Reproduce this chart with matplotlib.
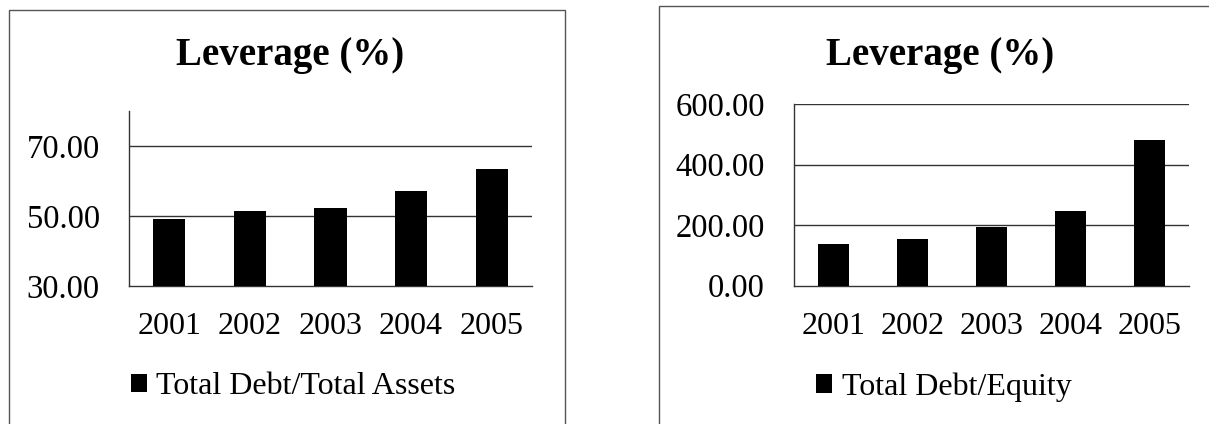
import matplotlib.pyplot as plt
from matplotlib.patches import Rectangle

# Veriler
years = ['2001', '2002', '2003', '2004', '2005']
debt_assets = [49.1, 51.5, 52.2, 57.1, 63.3]
debt_equity = [137.6, 155.0, 194.7, 247.5, 481.0]

left_ticks = [30, 50, 70]
right_ticks = [0, 200, 400, 600]

W, H = 1209, 424
plt.rcParams['font.family'] = ['Liberation Serif', 'DejaVu Serif']

fig = plt.figure(figsize=(W / 100, H / 100), dpi=100)


def px_axes(x0, y0, x1, y1):
    # piksel koordinatlarından (üstten) eksen oluştur
    return fig.add_axes([x0 / W, 1 - y1 / H, (x1 - x0) / W, (y1 - y0) / H])


def px_box(x0, y0, x1, y1):
    fig.patches.append(Rectangle((x0 / W, 1 - y1 / H), (x1 - x0) / W, (y1 - y0) / H,
                                 transform=fig.transFigure, fill=False,
                                 edgecolor='#555555', linewidth=1.0))


def draw_panel(ax, values, ylim, ticks, label, title_x, legend_x):
    x = range(len(years))
    ax.bar(x, values, width=0.4, color='black', label=label, zorder=3)
    ax.set_xlim(-0.5, len(years) - 0.5)
    ax.set_ylim(*ylim)
    ax.set_yticks(ticks)
    ax.set_yticklabels([f'{t:.2f}' for t in ticks])
    ax.set_xticks(list(x))
    ax.set_xticklabels(years)
    ax.tick_params(axis='y', length=0, labelsize=23.5, pad=21)
    ax.tick_params(axis='x', length=0, labelsize=23, pad=19)
    for t in ticks[1:]:
        ax.axhline(t, color='#333333', linewidth=1.0, zorder=1)
    for s in ['top', 'right']:
        ax.spines[s].set_visible(False)
    for s in ['left', 'bottom']:
        ax.spines[s].set_color('#333333')
        ax.spines[s].set_linewidth(1.0)
    fig.text(title_x / W, 1 - 56 / H, 'Leverage (%)', ha='center', va='center',
             fontsize=28, fontweight='bold')
    ax.legend(loc='center', bbox_to_anchor=(legend_x / W, 1 - 387 / H),
              bbox_transform=fig.transFigure, frameon=False, fontsize=23,
              handlelength=0.5, handleheight=0.5, handletextpad=0.3)


ax1 = px_axes(129, 110.7, 532, 286)
draw_panel(ax1, debt_assets, (30, 80), left_ticks,
           'Total Debt/Total Assets', 290, 293)

ax2 = px_axes(794, 104, 1189, 285.7)
draw_panel(ax2, debt_equity, (0, 600), right_ticks,
           'Total Debt/Equity', 940, 944)

px_box(8.5, 10, 564.6, 440)
px_box(659, 5.7, 1220, 440)

fig.savefig('out.png', dpi=100)
